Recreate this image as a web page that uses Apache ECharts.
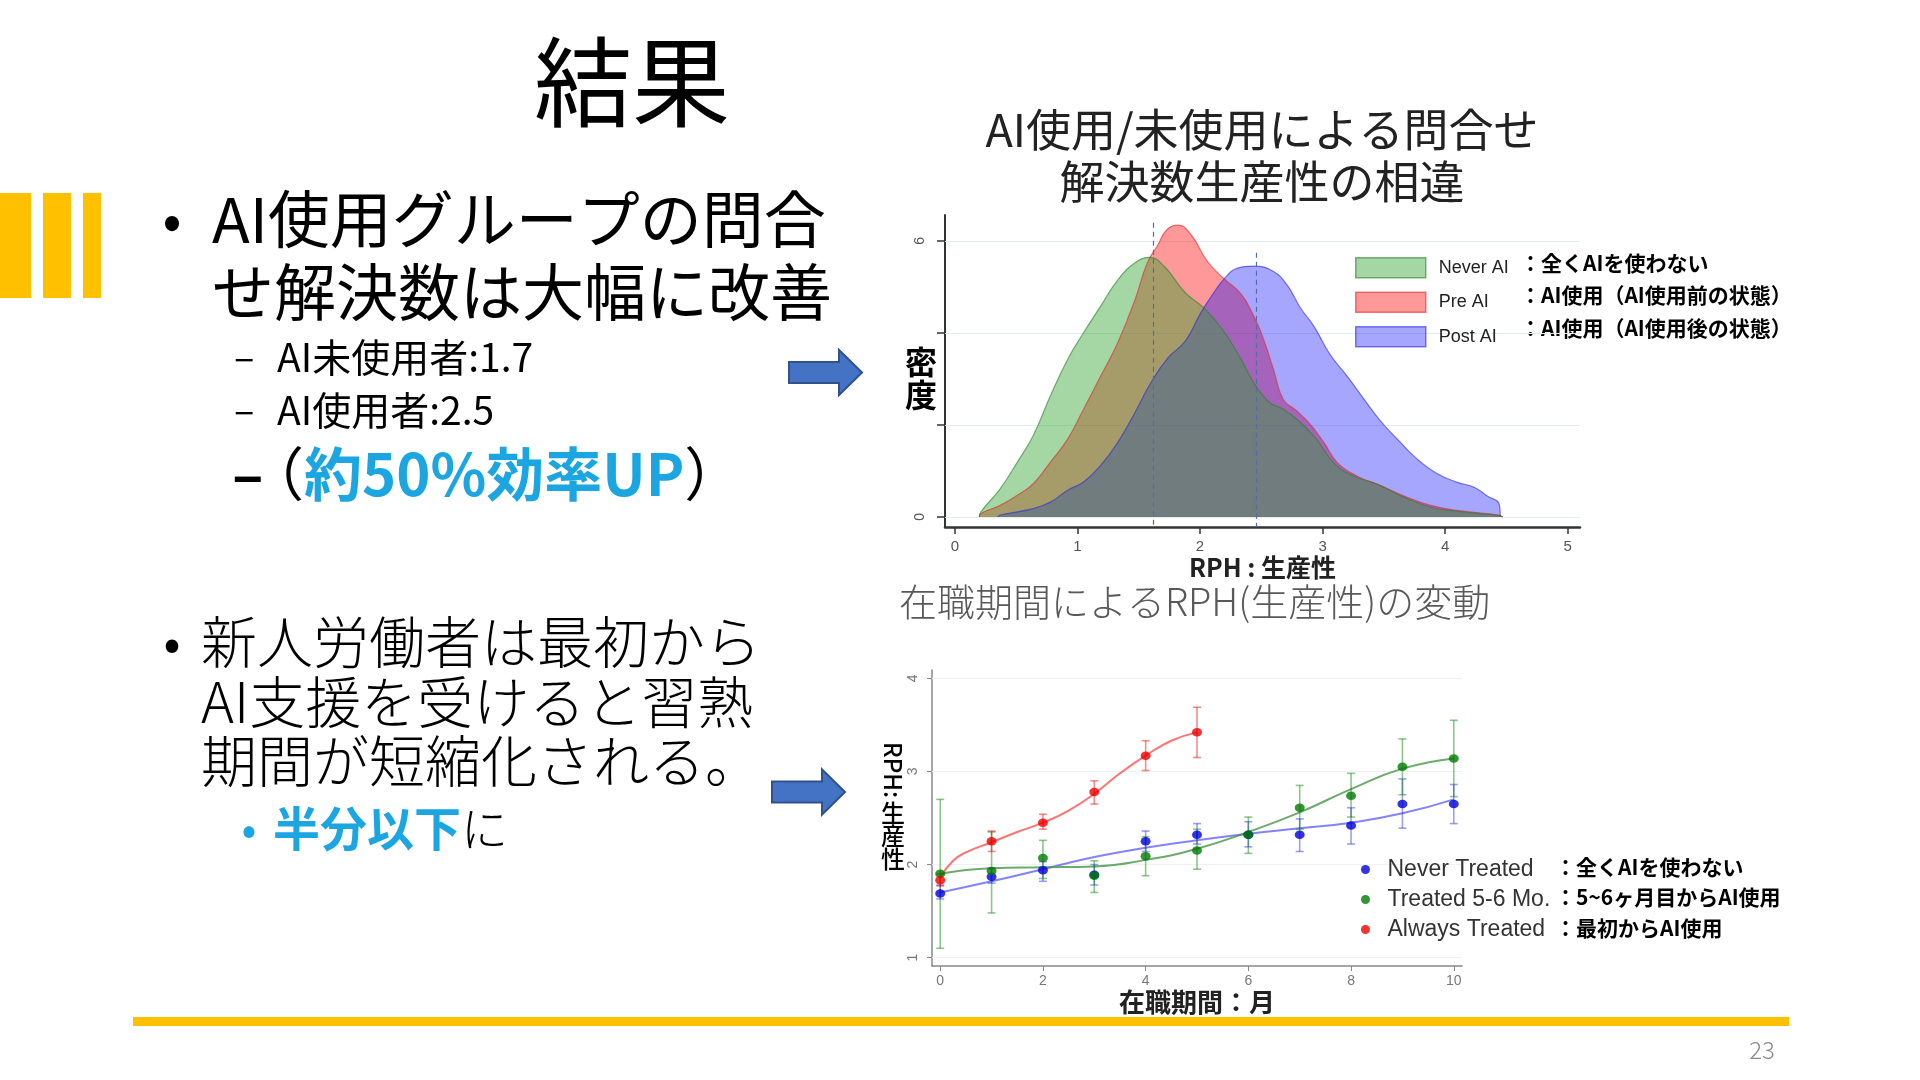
<!DOCTYPE html>
<html>
<head>
<meta charset="utf-8">
<title>結果</title>
<script src="https://cdn.jsdelivr.net/npm/echarts@6/dist/echarts.min.js"></script>
<style>
  html, body { margin: 0; padding: 0; background: #fff; }
  #main { width: 1920px; height: 1080px; }
</style>
</head>
<body>
<div id="main"></div>
<script>
// --- density of RPH (x, density) ---
var neverAiDensity = [[0.2,0],[0.21,0.1],[0.37,0.61],[0.51,1.19],[0.64,1.77],[0.78,2.63],[0.92,3.42],[1.05,4.0],[1.19,4.58],[1.33,5.15],[1.47,5.52],[1.59,5.64],[1.71,5.44],[1.88,4.87],[2.04,4.52],[2.19,4.05],[2.33,3.45],[2.44,2.91],[2.57,2.48],[2.68,2.34],[2.82,2.05],[2.95,1.69],[3.09,1.18],[3.25,0.89],[3.45,0.71],[3.66,0.43],[3.88,0.21],[4.1,0.12],[4.44,0.03],[4.47,0]];
var preAiDensity = [[0.2,0],[0.21,0.07],[0.37,0.25],[0.51,0.47],[0.64,0.72],[0.78,1.19],[0.92,1.69],[1.05,2.34],[1.19,3.06],[1.33,3.79],[1.47,4.72],[1.57,5.52],[1.65,5.88],[1.73,6.24],[1.82,6.34],[1.93,6.12],[2.06,5.55],[2.19,5.19],[2.33,4.86],[2.44,4.36],[2.52,3.85],[2.6,3.2],[2.68,2.55],[2.79,2.3],[2.9,2.01],[3.01,1.62],[3.12,1.18],[3.28,0.89],[3.47,0.68],[3.66,0.46],[3.88,0.25],[4.1,0.14],[4.44,0.04],[4.47,0]];
var postAiDensity = [[0.35,0],[0.37,0.04],[0.64,0.18],[0.78,0.32],[0.92,0.58],[1.05,0.76],[1.19,1.12],[1.33,1.62],[1.47,2.27],[1.6,2.92],[1.74,3.46],[1.88,3.82],[2.01,4.45],[2.12,4.9],[2.19,5.15],[2.3,5.4],[2.44,5.45],[2.6,5.33],[2.71,5.04],[2.82,4.54],[2.93,4.14],[3.06,3.53],[3.2,3.06],[3.34,2.55],[3.47,2.09],[3.61,1.69],[3.77,1.26],[3.94,0.93],[4.1,0.75],[4.24,0.64],[4.34,0.46],[4.44,0.28],[4.45,0]];
var meanRph = [1.62, 2.46];
var meanLineTop = [6.39, 5.74];
var densityTicks = [0, 2, 4, 6];
var densityLabels = [0, 6];
var rphTicks = [0, 1, 2, 3, 4, 5];

// --- RPH by tenure month ---
var months = [0, 1, 2, 3, 4, 5, 6, 7, 8, 9, 10];
var neverPts = [1.69, 1.87, 1.94, 1.89, 2.25, 2.32, 2.32, 2.32, 2.42, 2.65, 2.65];
var neverLo  = [1.63, 1.80, 1.82, 1.78, 2.14, 2.22, 2.19, 2.14, 2.22, 2.39, 2.44];
var neverHi  = [1.78, 1.96, 2.03, 2.00, 2.36, 2.44, 2.46, 2.49, 2.61, 2.92, 2.86];
var neverFit = [1.70, 1.82, 1.95, 2.08, 2.18, 2.26, 2.33, 2.39, 2.45, 2.55, 2.70];
var treatedPts = [1.90, 1.93, 2.07, 1.88, 2.09, 2.15, 2.32, 2.61, 2.74, 3.05, 3.14];
var treatedLo  = [1.10, 1.48, 1.85, 1.70, 1.88, 1.95, 2.12, 2.38, 2.51, 2.75, 2.73];
var treatedHi  = [2.70, 2.35, 2.26, 2.04, 2.30, 2.38, 2.51, 2.85, 2.98, 3.35, 3.55];
var treatedFit = [1.90, 1.96, 1.97, 1.98, 2.05, 2.17, 2.35, 2.56, 2.81, 3.03, 3.14];
var alwaysMonths = [0, 1, 2, 3, 4, 5];
var alwaysPts = [1.83, 2.25, 2.45, 2.78, 3.17, 3.42];
var alwaysLo  = [1.77, 2.14, 2.38, 2.65, 3.01, 3.15];
var alwaysHi  = [1.90, 2.36, 2.54, 2.90, 3.33, 3.69];
var alwaysFitX = [0, 0.25, 0.5, 1, 1.5, 2, 2.5, 3, 3.5, 4, 4.5, 5];
var alwaysFitY = [1.86, 2.04, 2.13, 2.24, 2.35, 2.45, 2.58, 2.76, 2.98, 3.17, 3.33, 3.42];
var monthTicks = [0, 2, 4, 6, 8, 10];
var rphTicks2 = [1, 2, 3, 4];

var JP = "'Noto Sans CJK JP', 'Noto Sans', sans-serif";
var AR = "'Liberation Sans', 'Noto Sans CJK JP', sans-serif";
var BLUE_TXT = '#1ba6e2';
var ORANGE = '#ffc000';

function zip(xs, ys) { return xs.map(function (x, i) { return [x, ys[i]]; }); }

function area(name, data, fill, stroke) {
  return {
    name: name, type: 'line', xAxisIndex: 0, yAxisIndex: 0, data: data,
    smooth: 0.45, showSymbol: false, symbol: 'none', silent: true,
    lineStyle: { color: stroke, width: 1.2 }, itemStyle: { color: stroke },
    areaStyle: { color: fill, opacity: 1 }
  };
}

function fitLine(xs, ys, color) {
  return {
    type: 'line', xAxisIndex: 1, yAxisIndex: 1, data: zip(xs, ys), smooth: 0.5,
    showSymbol: false, symbol: 'none', silent: true, z: 2,
    lineStyle: { color: color, width: 2 }
  };
}

function errorBars(xs, lo, hi, color) {
  return {
    type: 'custom', xAxisIndex: 1, yAxisIndex: 1, silent: true, z: 3,
    data: xs.map(function (x, i) { return [x, lo[i], hi[i]]; }),
    encode: { x: 0, y: [1, 2] },
    renderItem: function (params, api) {
      var top = api.coord([api.value(0), api.value(2)]);
      var bot = api.coord([api.value(0), api.value(1)]);
      var w = 4, st = { stroke: color, lineWidth: 1.6 };
      return { type: 'group', children: [
        { type: 'line', shape: { x1: top[0], y1: top[1], x2: bot[0], y2: bot[1] }, style: st },
        { type: 'line', shape: { x1: top[0] - w, y1: top[1], x2: top[0] + w, y2: top[1] }, style: st },
        { type: 'line', shape: { x1: bot[0] - w, y1: bot[1], x2: bot[0] + w, y2: bot[1] }, style: st }
      ] };
    }
  };
}

function dots(name, xs, ys, color) {
  return {
    name: name, type: 'scatter', xAxisIndex: 1, yAxisIndex: 1, data: zip(xs, ys),
    symbol: 'circle', symbolSize: [10, 8.5], itemStyle: { color: color }, silent: true, z: 4
  };
}

function txt(x, y, text, size, o) {
  o = o || {};
  return {
    type: 'text', x: x, y: y, rotation: o.rotation || 0, silent: true,
    style: {
      text: text, fontSize: size, fontFamily: o.family || JP, fontWeight: o.weight || 400,
      fill: o.color || '#000', align: o.align || 'left', textAlign: o.align || 'left',
      verticalAlign: 'middle', textVerticalAlign: 'middle', lineHeight: o.lineHeight, rich: o.rich
    }
  };
}

function arrow(x0, cy) {
  return {
    type: 'polygon', silent: true,
    shape: { points: [[x0, cy - 10.5], [x0 + 50, cy - 10.5], [x0 + 50, cy - 22.5], [x0 + 73, cy],
                      [x0 + 50, cy + 22.5], [x0 + 50, cy + 10.5], [x0, cy + 10.5]] },
    style: { fill: '#4472c4', stroke: '#2f528f', lineWidth: 2 }
  };
}

var gridLineStyle = { color: '#e4ecee', width: 1, type: 'solid' };

var fills = { never: 'rgba(40,160,40,0.42)', pre: 'rgba(255,0,0,0.4)', post: 'rgba(0,0,255,0.35)' };
var strokes = { never: 'rgba(40,130,40,0.6)', pre: 'rgba(225,40,40,0.6)', post: 'rgba(40,40,230,0.6)' };

var preSeries = area('Pre AI', preAiDensity, fills.pre, strokes.pre);
preSeries.markLine = {
  silent: true, symbol: 'none', z: 1, label: { show: false }, lineStyle: gridLineStyle,
  data: densityTicks.map(function (v) { return { yAxis: v }; })
};
var neverSeries = area('Never AI', neverAiDensity, fills.never, strokes.never);
neverSeries.markLine = {
  silent: true, symbol: 'none', label: { show: false },
  lineStyle: { color: '#4d6ea8', width: 1.2, type: [5, 4] },
  data: meanRph.map(function (m, i) { return [{ coord: [m, meanLineTop[i]] }, { coord: [m, -0.22] }]; })
};

var fitGrid = fitLine([0, 10], [1, 1], 'rgba(0,0,0,0)');
fitGrid.markLine = {
  silent: true, symbol: 'none', z: 1, label: { show: false },
  lineStyle: { color: '#eef2f2', width: 1, type: 'solid' },
  data: rphTicks2.map(function (v) { return { yAxis: v }; })
};

var option = {
  animation: false,
  backgroundColor: '#fff',
  grid: [
    { left: 945, top: 215, width: 635, height: 312 },
    { left: 932, top: 670, width: 530, height: 296 }
  ],
  xAxis: [
    {
      type: 'value', gridIndex: 0, min: -0.08, max: 5.1,
      name: 'RPH : 生産性', nameLocation: 'middle', nameGap: 12,
      nameTextStyle: { fontFamily: JP, fontSize: 25, fontWeight: 'bold', color: '#222' },
      axisLine: { show: true, onZero: false, lineStyle: { color: '#333', width: 2.5 } },
      axisTick: { show: true, customValues: rphTicks, length: 7, lineStyle: { color: '#333', width: 1.5 } },
      axisLabel: { customValues: rphTicks, color: '#555', fontSize: 15, margin: 12, fontFamily: AR },
      splitLine: { show: false }
    },
    {
      type: 'value', gridIndex: 1, min: -0.16, max: 10.16,
      name: '在職期間：月', nameLocation: 'middle', nameGap: 22,
      nameTextStyle: { fontFamily: JP, fontSize: 26, fontWeight: 'bold', color: '#222' },
      axisLine: { show: true, onZero: false, lineStyle: { color: '#888', width: 1.5 } },
      axisTick: { show: true, customValues: monthTicks, length: 5, lineStyle: { color: '#888' } },
      axisLabel: { customValues: monthTicks, color: '#777', fontSize: 14, margin: 8, fontFamily: AR },
      splitLine: { show: false }
    }
  ],
  yAxis: [
    {
      type: 'value', gridIndex: 0, min: -0.22, max: 6.56,
      axisLine: { show: true, onZero: false, lineStyle: { color: '#333', width: 2 } },
      axisTick: { show: true, customValues: densityTicks, length: 8, lineStyle: { color: '#333', width: 1.5 } },
      axisLabel: { customValues: densityLabels, rotate: 90, color: '#555', fontSize: 14, margin: 18, fontFamily: AR },
      splitLine: { show: false }
    },
    {
      type: 'value', gridIndex: 1, min: 0.91, max: 4.09,
      axisLine: { show: true, onZero: false, lineStyle: { color: '#888', width: 1.5 } },
      axisTick: { show: true, customValues: rphTicks2, length: 5, lineStyle: { color: '#888' } },
      axisLabel: { customValues: rphTicks2, rotate: 90, color: '#777', fontSize: 14, margin: 12, fontFamily: AR },
      splitLine: { show: false }
    }
  ],
  legend: [
    {
      left: 1350, top: 252, orient: 'vertical', icon: 'rect', selectedMode: false,
      itemWidth: 70, itemHeight: 20, itemGap: 13,
      textStyle: { fontFamily: AR, fontSize: 18, lineHeight: 20, color: '#222', padding: [0, 0, 0, 8] },
      data: [
        { name: 'Never AI', itemStyle: { color: fills.never, borderColor: strokes.never, borderWidth: 1.5 } },
        { name: 'Pre AI', itemStyle: { color: fills.pre, borderColor: strokes.pre, borderWidth: 1.5 } },
        { name: 'Post AI', itemStyle: { color: fills.post, borderColor: strokes.post, borderWidth: 1.5 } }
      ]
    },
    {
      left: 1356, top: 853, orient: 'vertical', icon: 'circle', selectedMode: false,
      itemWidth: 10, itemHeight: 9, itemGap: 7,
      textStyle: { fontFamily: AR, fontSize: 23, lineHeight: 22, color: '#333', padding: [0, 0, 0, 12] },
      data: ['Never Treated', 'Treated 5-6 Mo.', 'Always Treated']
    }
  ],
  series: [
    preSeries,
    area('Post AI', postAiDensity, fills.post, strokes.post),
    neverSeries,
    fitGrid,
    fitLine(months, neverFit, 'rgba(90,90,255,0.75)'),
    fitLine(months, treatedFit, 'rgba(70,150,70,0.8)'),
    fitLine(alwaysFitX, alwaysFitY, 'rgba(255,90,90,0.85)'),
    errorBars(months, neverLo, neverHi, 'rgba(40,40,230,0.45)'),
    errorBars(months, treatedLo, treatedHi, 'rgba(0,128,0,0.45)'),
    errorBars(alwaysMonths, alwaysLo, alwaysHi, 'rgba(230,0,0,0.45)'),
    dots('Never Treated', months, neverPts, '#0000dd'),
    dots('Treated 5-6 Mo.', months, treatedPts, '#007a00'),
    dots('Always Treated', alwaysMonths, alwaysPts, '#ee0000')
  ],
  graphic: [
    // slide decoration
    { type: 'rect', silent: true, shape: { x: 0, y: 193, width: 31, height: 105 }, style: { fill: ORANGE } },
    { type: 'rect', silent: true, shape: { x: 43, y: 193, width: 28, height: 105 }, style: { fill: ORANGE } },
    { type: 'rect', silent: true, shape: { x: 83, y: 193, width: 18, height: 105 }, style: { fill: ORANGE } },
    { type: 'rect', silent: true, shape: { x: 133, y: 1017, width: 1656, height: 9 }, style: { fill: ORANGE } },
    txt(632, 82, '結果', 98, { align: 'center' }),
    txt(1762, 1050, '23', 24, { align: 'center', color: '#8a8a8a', weight: 300 }),

    // left text, block 1
    txt(172, 219, '•', 56, { align: 'center' }),
    txt(212, 219, 'AI使用グループの問合', 62),
    txt(212, 292, 'せ解決数は大幅に改善', 62),
    txt(234, 357, '–', 38),
    txt(277, 357, 'AI未使用者:1.7', 39),
    txt(234, 410, '–', 38),
    txt(277, 410, 'AI使用者:2.5', 39),
    txt(232, 474, '–', 58, { weight: 'bold' }),
    txt(246, 474, '{p|（}{b|約50%効率UP}{p|）}', 58, {
      rich: {
        p: { fontSize: 58, fontFamily: JP, fill: '#000', fontWeight: 400 },
        b: { fontSize: 58, fontFamily: JP, fill: BLUE_TXT, fontWeight: 'bold' }
      }
    }),

    // left text, block 2
    txt(172, 642, '•', 50, { align: 'center' }),
    txt(201, 642, '新人労働者は最初から', 56, { weight: 300 }),
    txt(201, 702, 'AI支援を受けると習熟', 56, { weight: 300 }),
    txt(201, 761, '期間が短縮化される。', 56, { weight: 300 }),
    txt(249, 828, '•', 44, { align: 'center', color: BLUE_TXT }),
    txt(273, 828, '{b|半分以下}{n|に}', 47, {
      rich: {
        b: { fontSize: 47, fontFamily: JP, fill: BLUE_TXT, fontWeight: 'bold' },
        n: { fontSize: 47, fontFamily: JP, fill: '#000', fontWeight: 300 }
      }
    }),

    arrow(789, 372.5),
    arrow(772, 792),

    // chart 1 titles and labels
    txt(1262, 130, 'AI使用/未使用による問合せ', 45, { align: 'center', color: '#222' }),
    txt(1262, 182, '解決数生産性の相違', 45, { align: 'center', color: '#222' }),
    txt(921, 378, '密\n度', 32, { align: 'center', weight: 'bold', lineHeight: 33 }),
    txt(1520, 263, '：全くAIを使わない', 21, { weight: 'bold' }),
    txt(1520, 295, '：AI使用（AI使用前の状態）', 21, { weight: 'bold' }),
    txt(1520, 328, '：AI使用（AI使用後の状態）', 21, { weight: 'bold' }),

    // chart 2 titles and labels
    txt(899, 602, '在職期間によるRPH(生産性)の変動', 38, { color: '#595959', weight: 300 }),
    txt(893, 770, 'RPH:', 24, { align: 'center', weight: 500, rotation: -Math.PI / 2 }),
    txt(893, 836, '生\n産\n性', 24, { align: 'center', weight: 500, lineHeight: 23 }),
    txt(1555, 867, '：全くAIを使わない', 21, { weight: 'bold' }),
    txt(1555, 897, '：5~6ヶ月目からAI使用', 21, { weight: 'bold' }),
    txt(1555, 928, '：最初からAI使用', 21, { weight: 'bold' })
  ]
};

var chart = echarts.init(document.getElementById('main'), null, { renderer: 'canvas' });
chart.setOption(option);
window.addEventListener('resize', function () { chart.resize(); });
</script>
</body>
</html>
